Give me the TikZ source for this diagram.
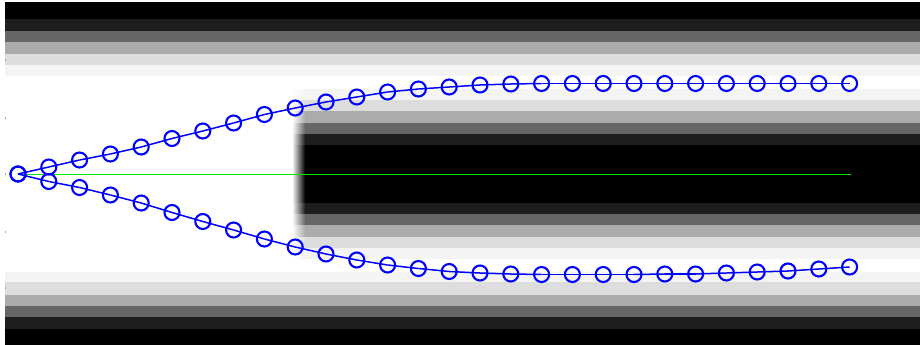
\documentclass[tikz,border=0pt]{standalone}
\definecolor{bandA}{HTML}{1E1E1E}
\definecolor{bandB}{HTML}{666666}
\definecolor{bandC}{HTML}{ABABAB}
\definecolor{bandD}{HTML}{DDDDDD}
\definecolor{bandE}{HTML}{F4F4F4}
\definecolor{ptblue}{HTML}{0000FF}
\definecolor{axgreen}{HTML}{00E600}
\tikzset{
  ptnode/.style={circle, draw=ptblue, line width=2.1pt, minimum size=15pt, inner sep=0pt},
  ptlink/.style={draw=ptblue, line width=1.5pt},
  axisline/.style={draw=axgreen, line width=1.6pt},
  tickmark/.style={fill=gray!70}
}
\begin{document}
\begin{tikzpicture}[x=1pt,y=-1pt]
\useasboundingbox (0,0) rectangle (920,345);
\fill[white] (0,0) rectangle (920,345);
% top wall
\fill[black] (5,2) rectangle (920,19);
\fill[bandA] (5,19) rectangle (920,31);
\fill[bandB] (5,31) rectangle (920,42);
\fill[bandC] (5,42) rectangle (920,54);
\fill[bandD] (5,54) rectangle (920,65);
\fill[bandE] (5,65) rectangle (920,76);
% bottom wall
\fill[bandE] (5,272) rectangle (920,282);
\fill[bandD] (5,282) rectangle (920,295);
\fill[bandC] (5,295) rectangle (920,306);
\fill[bandB] (5,306) rectangle (920,317);
\fill[bandA] (5,317) rectangle (920,329);
\fill[black] (5,329) rectangle (920,345);
% middle bar
\foreach \ya/\yb/\cc in {89/100/bandE,100/111/bandD,111/123/bandC,123/134/bandB,134/145/bandA,145/203/black,203/214/bandA,214/225/bandB,225/237/bandC,237/248/bandD,248/259/bandE}{
  \fill[\cc] (304.5,\ya) rectangle (920,\yb);
  \shade[left color=white, right color=\cc] (292,\ya) rectangle (305,\yb);
}
% tick marks on the left edge
\foreach \yt in {60,118,174,232,288}{
  \fill[tickmark] (4.5,\yt-0.6) rectangle (5.8,\yt+0.6);
}
% green axis
\coordinate (g0) at (21,174.3);
\coordinate (g1) at (851,174.3);
\draw[axisline] (g0) -- (g1);
% upper points
\foreach \yy [count=\i from 0] in {174,167,160,154,147,138.5,131,123,114.5,108,102,97,92,89,87,85,84,83.5,83.5,83.5,83.5,83.5,83.5,83.5,83.5,83.5,83.5,83.5}{
  \node[ptnode] (t\i) at ({18+30.8*\i},\yy) {};
}
% lower points
\foreach \yy [count=\i from 0] in {174,181.5,187.5,195,203,212.5,221.5,230,239,247,254,260,265,268.5,271.5,273,274,274.5,274.5,274.5,274.5,274,274,273,272,271,269,267}{
  \node[ptnode] (b\i) at ({18+30.8*\i},\yy) {};
}
\foreach \i [evaluate=\i as \j using int(\i-1)] in {1,...,27}{
  \draw[ptlink] (t\j.center) -- (t\i.center);
  \draw[ptlink] (b\j.center) -- (b\i.center);
}
\end{tikzpicture}
\end{document}
